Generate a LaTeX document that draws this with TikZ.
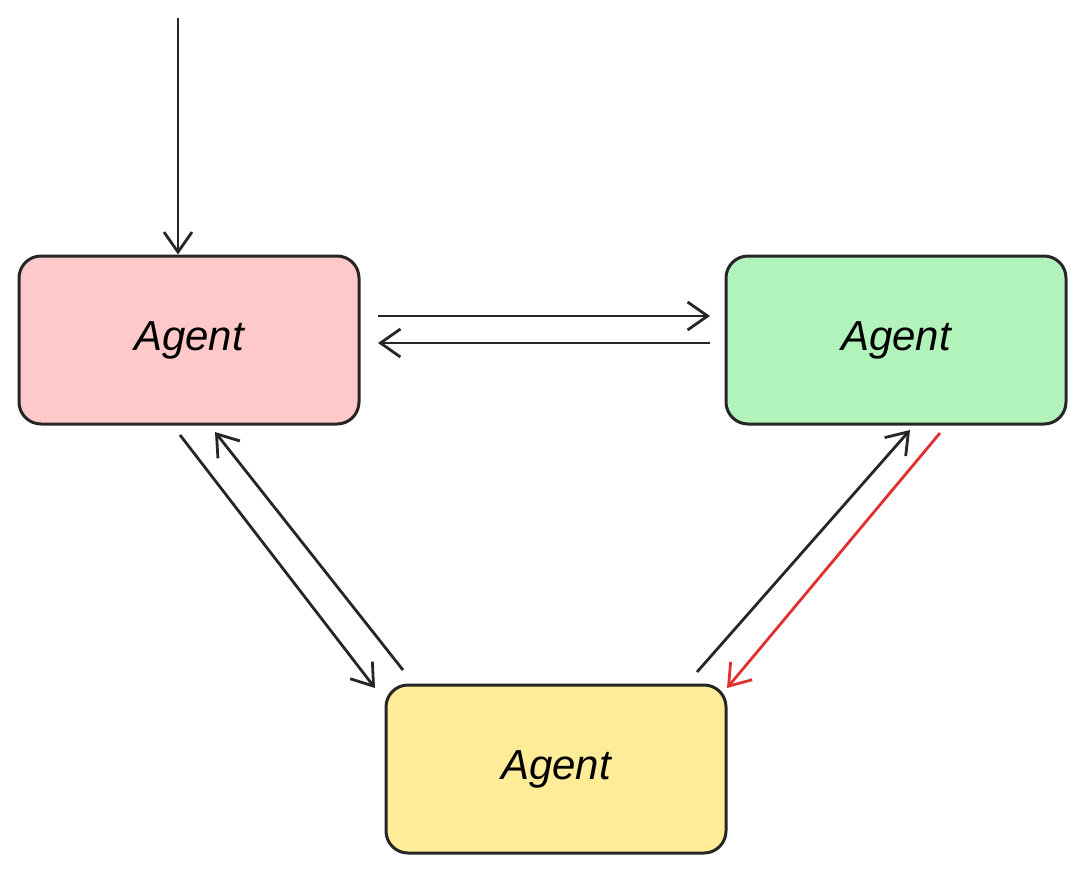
\documentclass[tikz,border=0pt]{standalone}
\usepackage{fontspec}
\setmainfont{Liberation Sans}
\usetikzlibrary{arrows.meta}
\definecolor{rfill}{HTML}{FFC9C9}
\definecolor{gfill}{HTML}{B2F2BB}
\definecolor{yfill}{HTML}{FFEC99}
\definecolor{redline}{HTML}{E03131}
\begin{document}
\begin{tikzpicture}[x=1pt,y=-1pt,
  box/.style={draw=black!85,line width=3pt,rounded corners=22pt,minimum width=340pt,minimum height=168pt,font=\itshape\fontsize{42}{48}\selectfont},
  arr/.style={draw=black!85,line width=2.8pt,-{Straight Barb[length=20pt,width=28pt,line width=2.8pt]}}]
\useasboundingbox (0,0) rectangle (1086,873);
\node[box,fill=rfill] (r) at (189,340) {Agent};
\node[box,fill=gfill] (g) at (896,340) {Agent};
\node[box,fill=yfill] (y) at (556,769) {Agent};
\coordinate (in) at (178,18);
\coordinate (a1) at (378,316); \coordinate (a2) at (710,316);
\coordinate (b1) at (710,343); \coordinate (b2) at (378,343);
\coordinate (c1) at (180,435); \coordinate (c2) at (375,688);
\coordinate (d1) at (403,670); \coordinate (d2) at (215,432);
\coordinate (e1) at (697,672); \coordinate (e2) at (910,430);
\coordinate (f1) at (940,433); \coordinate (f2) at (727,688);
\draw[arr] (in) -- (r.north -| in);
\draw[arr] (a1) -- (a2);
\draw[arr] (b1) -- (b2);
\draw[arr] (c1) -- (c2);
\draw[arr] (d1) -- (d2);
\draw[arr] (e1) -- (e2);
\draw[arr,draw=redline,-{Straight Barb[length=20pt,width=28pt,line width=2.8pt,color=redline]}] (f1) -- (f2);
\end{tikzpicture}
\end{document}
